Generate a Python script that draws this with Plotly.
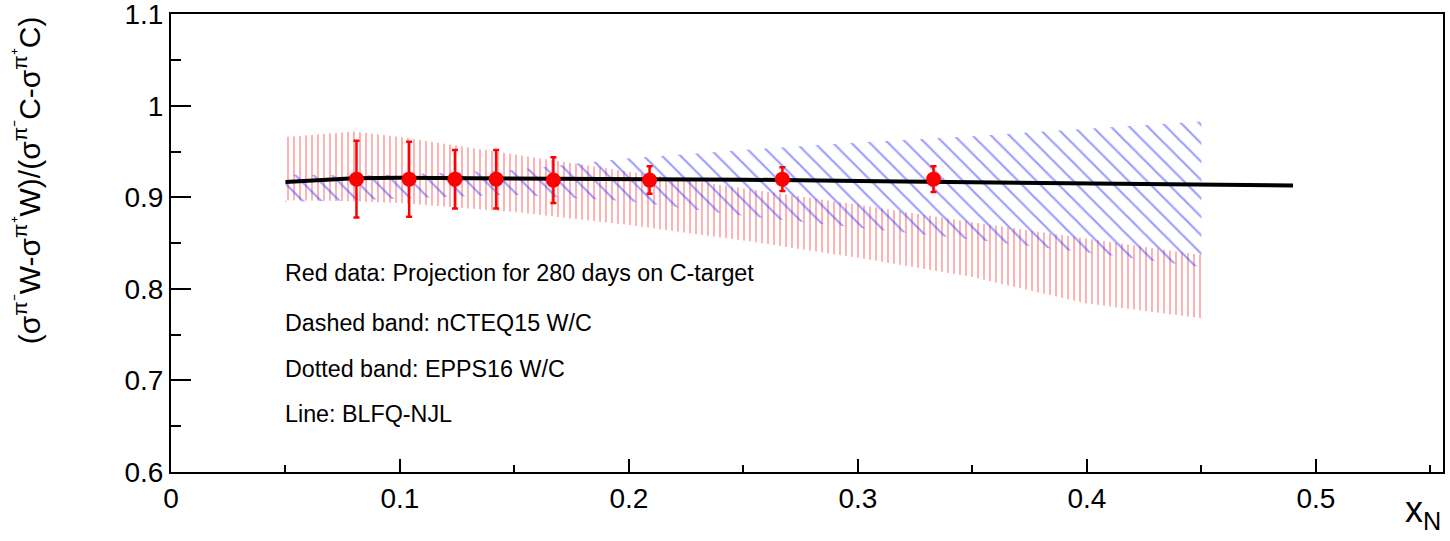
import plotly.graph_objects as go

# ---------------- data ----------------
# projected data points (red)
data_x = [0.081, 0.104, 0.124, 0.142, 0.167, 0.209, 0.267, 0.333]
data_y = [0.920, 0.920, 0.920, 0.920, 0.919, 0.919, 0.920, 0.920]
data_err = [0.042, 0.041, 0.032, 0.032, 0.025, 0.015, 0.013, 0.014]

# BLFQ-NJL line
line_x = [0.05, 0.08, 0.10, 0.15, 0.20, 0.25, 0.30, 0.35, 0.40, 0.45, 0.49]
line_y = [0.917, 0.921, 0.9215, 0.921, 0.9205, 0.9195, 0.918, 0.9168, 0.9155, 0.9143, 0.913]

# bands
band_x = [0.05, 0.08, 0.10, 0.15, 0.20, 0.25, 0.30, 0.35, 0.40, 0.45]
epps_hi = [0.966, 0.972, 0.966, 0.947, 0.928, 0.910, 0.892, 0.873, 0.855, 0.837]
epps_lo = [0.897, 0.896, 0.894, 0.884, 0.870, 0.853, 0.834, 0.813, 0.784, 0.768]
ncteq_hi = [0.925, 0.924, 0.925, 0.930, 0.943, 0.952, 0.960, 0.967, 0.975, 0.983]
ncteq_lo = [0.895, 0.897, 0.899, 0.903, 0.896, 0.880, 0.867, 0.854, 0.840, 0.824]

y_ticks = [0.6, 0.7, 0.8, 0.9, 1.0, 1.1]
y_ticktext = ["0.6", "0.7", "0.8", "0.9", "1", "1.1"]

labels = ["Red data: Projection for 280 days on C-target",
          "Dashed band: nCTEQ15 W/C",
          "Dotted band: EPPS16 W/C",
          "Line: BLFQ-NJL"]
label_y = [0.8177, 0.763, 0.7127, 0.6635]

FONT = "Liberation Sans, Arial, Helvetica, sans-serif"

fig = go.Figure()

# EPPS16 dotted band
fig.add_trace(go.Scatter(
    x=band_x + band_x[::-1], y=epps_hi + epps_lo[::-1],
    fill="toself", mode="lines", line=dict(width=0, color="rgba(0,0,0,0)"),
    fillcolor="rgba(0,0,0,0)",
    fillpattern=dict(shape="|", fgcolor="rgb(255,0,0)", bgcolor="rgba(0,0,0,0)",
                     size=6, solidity=0.2),
    hoverinfo="skip", showlegend=False))

# nCTEQ15 hatched band
fig.add_trace(go.Scatter(
    x=band_x + band_x[::-1], y=ncteq_hi + ncteq_lo[::-1],
    fill="toself", mode="lines", line=dict(width=0, color="rgba(0,0,0,0)"),
    fillcolor="rgba(0,0,0,0)",
    fillpattern=dict(shape="\\", fgcolor="rgb(60,60,255)", bgcolor="rgba(0,0,0,0)",
                     size=13, solidity=0.17),
    hoverinfo="skip", showlegend=False))

# BLFQ-NJL line
fig.add_trace(go.Scatter(x=line_x, y=line_y, mode="lines",
                         line=dict(color="black", width=4), showlegend=False))

# data points
fig.add_trace(go.Scatter(
    x=data_x, y=data_y, mode="markers",
    marker=dict(color="red", size=15, line=dict(width=0)),
    error_y=dict(type="data", array=data_err, visible=True, color="red",
                 thickness=2.5, width=3),
    showlegend=False))

for t, yy in zip(labels, label_y):
    fig.add_annotation(x=0.049, y=yy, xref="x", yref="y", text=t, showarrow=False,
                       xanchor="left", yanchor="middle",
                       font=dict(family=FONT, size=23.3, color="black"))

# y title
fig.add_annotation(
    x=-0.113, y=1.0, xref="paper", yref="paper",
    text="(σ<sup>π⁻</sup>W-σ<sup>π⁺</sup>W)/(σ<sup>π⁻</sup>C-σ<sup>π⁺</sup>C)",
    textangle=-90, showarrow=False, xanchor="center", yanchor="top",
    font=dict(family=FONT, size=30, color="black"))

# x title
fig.add_annotation(
    x=1.0, y=-0.088, xref="paper", yref="paper", text="x<sub>N</sub>",
    showarrow=False, xanchor="right", yanchor="middle",
    font=dict(family=FONT, size=36, color="black"))

fig.update_xaxes(range=[0, 0.5555], dtick=0.1, tick0=0, showgrid=False, zeroline=False,
                 automargin=False,
                 showline=True, linecolor="black", linewidth=2, mirror=True,
                 ticks="inside", ticklen=13, tickwidth=2, tickcolor="black",
                 tickfont=dict(family=FONT, size=28, color="black"),
                 minor=dict(dtick=0.05, tick0=0, ticks="inside", ticklen=7,
                            tickwidth=2, tickcolor="black", showgrid=False))
fig.update_yaxes(range=[0.6, 1.1005], tickmode="array", tickvals=y_ticks, ticktext=y_ticktext,
                 ticklabeloverflow="allow", automargin=False,
                 showgrid=False, zeroline=False,
                 showline=True, linecolor="black", linewidth=2, mirror=True,
                 ticks="inside", ticklen=20, tickwidth=2, tickcolor="black",
                 tickfont=dict(family=FONT, size=28, color="black"),
                 minor=dict(dtick=0.05, tick0=0.6, ticks="inside", ticklen=10,
                            tickwidth=2, tickcolor="black", showgrid=False))

fig.update_layout(width=1450, height=541,
                  margin=dict(l=171, r=7, t=14, b=69, pad=0, autoexpand=False),
                  plot_bgcolor="white", paper_bgcolor="white",
                  font=dict(family=FONT, color="black"),
                  showlegend=False)

fig.write_html("out.html")
